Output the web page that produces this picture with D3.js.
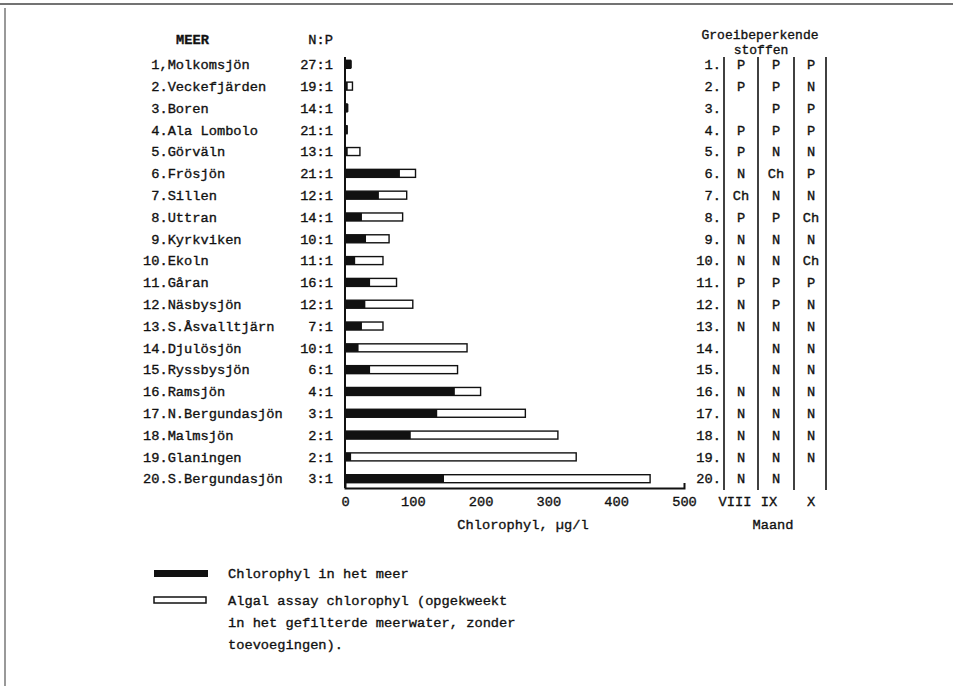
<!DOCTYPE html>
<html><head><meta charset="utf-8">
<script src="https://cdn.jsdelivr.net/npm/d3@7"></script>
<style>
body{margin:0;background:#fff}
text{font-family:"Liberation Mono","DejaVu Sans Mono",monospace;font-size:13.7px;fill:#111;stroke:#111;stroke-width:0.35px}
</style>
</head><body>
<svg id="chart" width="953" height="686"></svg>
<script>
// ---- data ----
const lakeLabels = ["1,Molkomsjön","2.Veckefjärden","3.Boren","4.Ala Lombolo","5.Görväln","6.Frösjön","7.Sillen","8.Uttran","9.Kyrkviken","10.Ekoln","11.Gåran","12.Näsbysjön","13.S.Åsvalltjärn","14.Djulösjön","15.Ryssbysjön","16.Ramsjön","17.N.Bergundasjön","18.Malmsjön","19.Glaningen","20.S.Bergundasjön"];
const npRatios = ["27:1","19:1","14:1","21:1","13:1","21:1","12:1","14:1","10:1","11:1","16:1","12:1","7:1","10:1","6:1","4:1","3:1","2:1","2:1","3:1"];
const lakeChl  = [10,4,5,4,4,81,50,25,31,15,37,30,25,20,37,162,136,97,9,146];
const assayChl = [8,11,3,3,22,104,91,85,65,56,76,100,56,180,166,200,266,314,341,450];
const xTicks = [0,100,200,300,400,500];
const months = ["VIII","IX","X"];
const limVIII = ["P","P","","P","P","N","Ch","P","N","N","P","N","N","","","N","N","N","N","N"];
const limIX   = ["P","P","P","P","N","Ch","N","P","N","N","P","P","N","N","N","N","N","N","N","N"];
const limX    = ["P","N","P","P","N","P","N","Ch","N","Ch","P","N","N","N","N","N","N","N","N",""];
const legendLabels = ["Chlorophyl in het meer","Algal assay chlorophyl (opgekweekt","in het gefilterde meerwater, zonder","toevoegingen)."];

// ---- layout ----
const svg = d3.select("#chart");
const fs = 13.7, cw = fs*0.6;
const idx = d3.range(lakeLabels.length);
const x = d3.scaleLinear().domain([0,500]).range([345,684]);
const y = d3.scalePoint().domain(idx).range([64.3,478.7]);
const barH = 8;
const axisY = 488;

// scan frame
svg.append("line").attr("x1",0).attr("x2",953).attr("y1",4).attr("y2",4).attr("stroke","#444").attr("stroke-width",1.5);
svg.append("line").attr("x1",5).attr("x2",5).attr("y1",8).attr("y2",686).attr("stroke","#555").attr("stroke-width",1.2);

// headers
svg.append("text").attr("x",176).attr("y",39).attr("dy","0.35em").style("font-weight","bold").text("MEER");
svg.append("text").attr("x",333).attr("y",39).attr("dy","0.35em").attr("text-anchor","end").text("N:P");

// lake labels
svg.append("g").selectAll("text").data(idx).join("text")
  .attr("x", i => 143 + (i < 9 ? cw : 0))
  .attr("y", i => y(i)).attr("dy","0.35em")
  .text(i => lakeLabels[i]);
svg.append("g").selectAll("text").data(idx).join("text")
  .attr("x", 333).attr("text-anchor","end")
  .attr("y", i => y(i)).attr("dy","0.35em")
  .text(i => npRatios[i]);

// bars
svg.append("g").selectAll("rect").data(idx).join("rect")
  .attr("x", x(0)).attr("y", i => y(i)-barH/2)
  .attr("width", i => x(assayChl[i]) - x(0)).attr("height", barH)
  .attr("fill","#fff").attr("stroke","#111").attr("stroke-width",1.4);
svg.append("g").selectAll("rect").data(idx).join("rect")
  .attr("x", x(0)).attr("y", i => y(i)-barH/2)
  .attr("width", i => x(lakeChl[i]) - x(0)).attr("height", barH)
  .attr("fill","#111");

// axes
svg.append("line").attr("x1",x(0)).attr("x2",x(0)).attr("y1",57).attr("y2",axisY).attr("stroke","#111").attr("stroke-width",2);
const ax = svg.append("g").attr("transform",`translate(0,${axisY})`)
  .call(d3.axisBottom(x).tickValues(xTicks).tickSizeInner(0).tickSizeOuter(-5).tickPadding(8));
ax.attr("font-size",null).attr("font-family",null);
ax.select(".domain").attr("stroke","#111").attr("stroke-width",2);
ax.selectAll("text").attr("fill","#111");
svg.append("text").attr("x",523).attr("y",524).attr("dy","0.35em").attr("text-anchor","middle").text("Chlorophyl, µg/l");

// right table
svg.append("text").attr("x",760).attr("y",34).attr("dy","0.35em").attr("text-anchor","middle").style("font-size","13px").text("Groeibeperkende");
svg.append("text").attr("x",761).attr("y",49).attr("dy","0.35em").attr("text-anchor","middle").style("font-size","13px").text("stoffen");
const colLines = [724,758,794,826];
svg.append("g").selectAll("line").data(colLines).join("line")
  .attr("x1",d=>d).attr("x2",d=>d).attr("y1",57).attr("y2",490)
  .attr("stroke","#111").attr("stroke-width",1.6);
svg.append("g").selectAll("text").data(idx).join("text")
  .attr("x",721).attr("text-anchor","end").attr("y",i=>y(i)).attr("dy","0.35em")
  .text(i => (i+1)+".");
const cols = [{v:limVIII,cx:741},{v:limIX,cx:776},{v:limX,cx:811}];
cols.forEach(c => {
  svg.append("g").selectAll("text").data(idx).join("text")
    .attr("x",c.cx).attr("text-anchor","middle").attr("y",i=>y(i)).attr("dy","0.35em")
    .text(i => c.v[i]);
});
const monthX = [735,769,811];
svg.append("g").selectAll("text").data(months).join("text")
  .attr("x",(d,i)=>monthX[i]).attr("y",501).attr("dy","0.35em").attr("text-anchor","middle").text(d=>d);
svg.append("text").attr("x",773).attr("y",524).attr("dy","0.35em").attr("text-anchor","middle").text("Maand");

// legend
svg.append("rect").attr("x",154).attr("y",570).attr("width",54).attr("height",7).attr("fill","#111");
svg.append("rect").attr("x",154).attr("y",597).attr("width",52).attr("height",6).attr("fill","#fff").attr("stroke","#111").attr("stroke-width",1.5);
const legY = [573,600,622,644];
svg.append("g").selectAll("text").data(legendLabels).join("text")
  .attr("x",228).attr("y",(d,i)=>legY[i]).attr("dy","0.35em").text(d=>d);
</script>
</body></html>
